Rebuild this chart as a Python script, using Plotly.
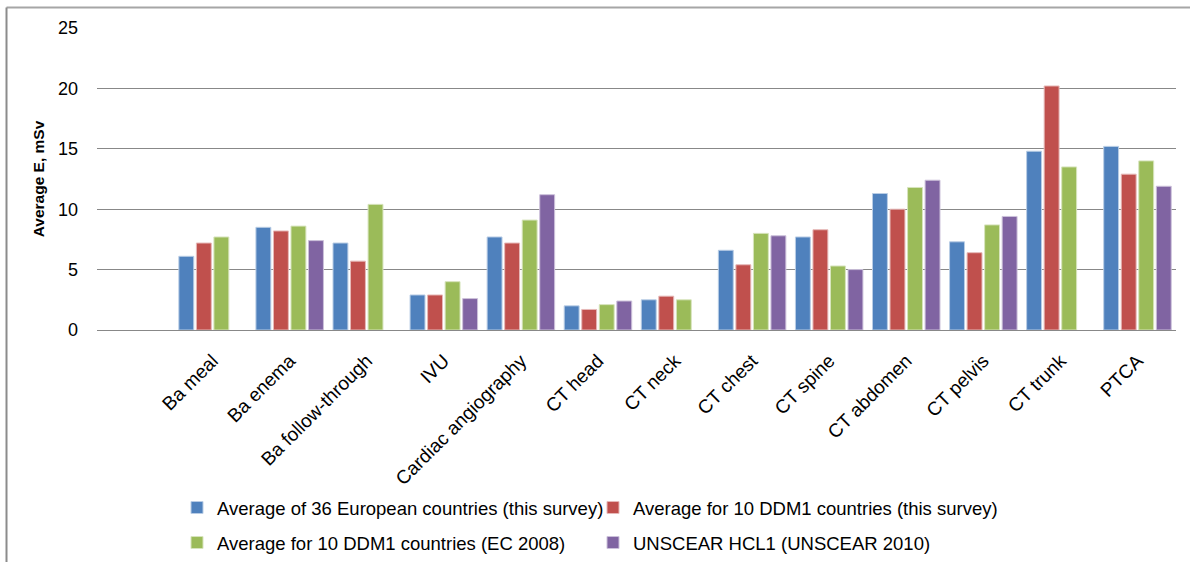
import plotly.graph_objects as go

categories = ["Ba meal", "Ba enema", "Ba follow-through", "IVU", "Cardiac angiography",
              "CT head", "CT neck", "CT chest", "CT spine", "CT abdomen", "CT pelvis",
              "CT trunk", "PTCA"]
eu36_survey = [6.1, 8.5, 7.2, 2.9, 7.7, 2.0, 2.5, 6.6, 7.7, 11.3, 7.3, 14.8, 15.2]
ddm1_survey = [7.2, 8.2, 5.7, 2.9, 7.2, 1.7, 2.8, 5.4, 8.3, 10.0, 6.4, 20.2, 12.9]
ddm1_ec2008 = [7.7, 8.6, 10.4, 4.0, 9.1, 2.1, 2.5, 8.0, 5.3, 11.8, 8.7, 13.5, 14.0]
unscear_hcl1 = [None, 7.4, None, 2.6, 11.2, 2.4, None, 7.8, 5.0, 12.4, 9.4, None, 11.9]

series_names = ["Average of 36 European countries (this survey)",
                "Average for 10 DDM1 countries (this survey)",
                "Average for 10 DDM1 countries (EC 2008)",
                "UNSCEAR HCL1 (UNSCEAR 2010)"]
colors = ["#4F81BD", "#C0504D", "#9BBB59", "#8064A2"]
edge_colors = ["#B9CDE5", "#E6B9B8", "#D7E4BD", "#CCC1DA"]
legend_ids = ["legend", "legend2", "legend3", "legend4"]

FONT = "Liberation Sans"

fig = go.Figure()
for name, vals, col, ecol, lg in zip(series_names,
                                     [eu36_survey, ddm1_survey, ddm1_ec2008, unscear_hcl1],
                                     colors, edge_colors, legend_ids):
    fig.add_trace(go.Bar(x=categories, y=vals, name=name, legend=lg, showlegend=True,
                         marker=dict(color=col, line=dict(color=ecol, width=1))))

# plot area: x 97..1176 px, y 28..330 px
def px_x(p):
    return (p - 97) / 1079

def px_y(p):
    return (330 - p) / 302

legend_pos = [(177, 508), (593, 508), (177, 543), (593, 543)]
legend_cfg = {}
for lg, (lx, ly) in zip(legend_ids, legend_pos):
    legend_cfg[lg] = dict(orientation="h", x=px_x(lx), y=px_y(ly), xanchor="left",
                          yanchor="middle", bgcolor="rgba(0,0,0,0)", visible=True,
                          font=dict(family=FONT, size=18.5, color="#000000"))

fig.update_layout(
    width=1190, height=562,
    showlegend=True,
    margin=dict(l=97, r=14, t=28, b=232, autoexpand=False),
    paper_bgcolor="white", plot_bgcolor="white",
    barmode="group", bargap=0.09, bargroupgap=0.15,
    font=dict(family=FONT, size=18, color="#000000"),
    xaxis=dict(type="category", range=[-1.5, 12.5], tickangle=-45, showgrid=False,
               showline=False, ticks="", ticklabelstandoff=15, automargin=False,
               tickfont=dict(family=FONT, size=19)),
    yaxis=dict(range=[0, 25], dtick=5, showgrid=True, gridcolor="#888888", gridwidth=1,
               zeroline=True, zerolinecolor="#888888", zerolinewidth=1, showline=False,
               ticks="", ticklabelstandoff=18, automargin=False,
               tickfont=dict(family=FONT, size=18),
               title=dict(text="<b>Average E, mSv</b>", standoff=9,
                          font=dict(family=FONT, size=15.5))),
    shapes=[
        dict(type="line", xref="paper", yref="paper", x0=px_x(6.5), x1=px_x(1190),
             y0=px_y(7.5), y1=px_y(7.5), line=dict(color="#A6A6A6", width=2)),
        dict(type="line", xref="paper", yref="paper", x0=px_x(6.5), x1=px_x(6.5),
             y0=px_y(7.5), y1=px_y(562), line=dict(color="#8C8C8C", width=2)),
    ],
    **legend_cfg,
)

fig.write_html("out.html")
